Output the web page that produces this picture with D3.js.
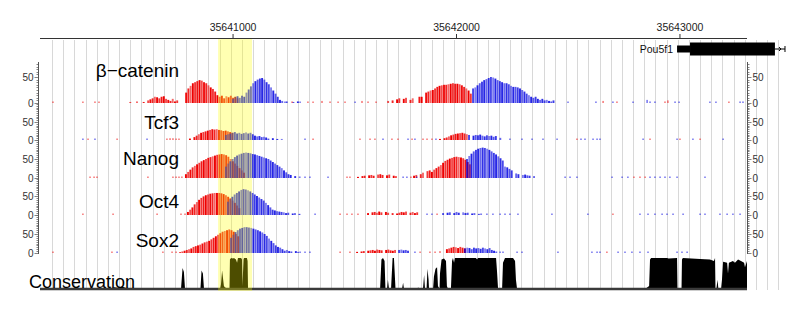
<!DOCTYPE html>
<html><head><meta charset="utf-8">
<script src="https://cdn.jsdelivr.net/npm/d3@7/dist/d3.min.js"></script>
<style>body{margin:0;background:#fff}svg{display:block;font-family:"Liberation Sans",Arial,sans-serif}</style>
</head><body><svg id="c" width="800" height="323"></svg>
<script>
// ---------------- DATA ----------------
const regionStart = 35640136, regionEnd = 35643300;
const axisTicks = [35641000, 35642000, 35643000];
const gridStart = 35640190, gridStep = 50, gridEnd = 35643450;
const highlight = [35640933, 35641085];
const trackNames = ["β−catenin", "Tcf3", "Nanog", "Oct4", "Sox2"];
const yTickValues = [0, 50];
const STEP = 10; // bp per bar
const geneName = "Pou5f1";
const gene = [35642987, 35643045, 35643425, 35643470]; // txStart, cdsStart, cdsEnd, txEnd

// segments: [startBp, values every STEP bp]
const bcatFwd = [
  [35640530, [0,2,0,0,3,0,0,2, 0,5,7,9,12,11,9,12,13,8,6,4,8,3,5,0,0,0, 20,28,33,38,40,42,44,43,40,38,34,30,27,22, 15,12,14,9,13,11,14,10,12,9]],
  [35641684, [0,4,0,5,0,7,9,0,8,10,0,6,9,0,0,12, 12,0,20,22,24,25,28,31,33,34,35,35,36,37,38,37,37,36,34,31,28,24,18]]
];
const bcatRev = [
  [35641000, [8,11,13,10,14,12,20,26,32,38,42,45,47,48,45,40,36,30,24,18,12,6,4,0,3,0,0,2,0,3,0]],
  [35642074, [28,30,34,38,41,44,46,48,50,49,47,44,42,40,38,38,36,33,31,31,30,28,25,22,18,15,12,10,12,8,6,8,5,6,4,3,5]]
];
const bcatNoise = [[35640194,3,"f"],[35640328,2,"f"],[35640382,3,"f"],[35640400,2,"f"],[35641232,2,"r"],[35641264,3,"f"],[35641300,2,"r"],[35641335,3,"f"],[35641358,2,"f"],[35641398,4,"f"],[35641434,3,"f"],[35641470,2,"f"],[35641501,3,"f"],[35641546,2,"r"],[35641577,4,"f"],[35641604,3,"f"],[35641640,3,"f"],[35642499,2,"r"],[35642624,3,"r"],[35642656,4,"f"],[35642700,3,"r"],[35642718,3,"f"],[35642790,2,"r"],[35642853,6,"r"],[35642866,3,"r"],[35642888,3,"r"],[35642933,3,"f"],[35642946,5,"f"],[35642978,3,"r"],[35642996,2,"r"],[35643134,2,"r"],[35643161,2,"r"],[35643219,2,"f"],[35643269,3,"r"],[35643282,3,"r"]];

const tcfFwd = [
  [35640807, [4,0,8,12,16,20,22,24,26,28,30,29,30,28,27,25,26,24,22,20]],
  [35641926, [3,0,5,7,10,13,15,17,18,19,20,18,16]]
];
const tcfRev = [
  [35640968, [14,16,18,20,22,18,20,17,19,21,18,20,16,12,10,11,8,9,7,4,0,5,0,3,0,3]],
  [35642056, [14,0,12,14,13,15,12,10,13,11,12,9,11,0,6]]
];
const tcfNoise = [[35640328,2,"r"],[35640351,3,"f"],[35640382,2,"r"],[35640481,2,"f"],[35640615,3,"r"],[35640704,4,"f"],[35640718,5,"f"],[35640731,5,"f"],[35640745,4,"f"],[35640758,3,"f"],[35641322,2,"r"],[35641358,3,"f"],[35641568,2,"f"],[35641613,3,"f"],[35641635,2,"f"],[35641671,2,"r"],[35641711,2,"f"],[35641738,3,"f"],[35641783,2,"r"],[35641801,2,"f"],[35641814,2,"r"],[35641850,4,"f"],[35641868,4,"f"],[35641890,3,"f"],[35641908,3,"r"],[35642239,3,"r"],[35642293,2,"r"],[35642338,2,"r"],[35642387,2,"r"],[35642450,2,"r"],[35642539,2,"f"],[35642557,2,"r"],[35642575,2,"r"],[35642611,3,"r"],[35642629,3,"r"],[35642642,2,"r"],[35642835,2,"r"],[35642866,2,"f"],[35642987,2,"r"],[35643000,2,"f"],[35643058,2,"r"],[35643090,2,"f"],[35643193,2,"r"]];

const nanogFwd = [
  [35640789, [10,16,22,28,32,36,40,44,47,50,53,55,57,59,61,62,63,62,60,56,50,44,38,32,26,20,14]],
  [35641810, [6,8,0,10,14,0,18,20,16,22,26,30,34,40,45,48,51,53,55,56,55,54,52,48,42,36]],
  [35641559, [3,0,5,6,0,7,8,6,0,9,10,8,0,7,9,0,6,5,0]]
];
const nanogRev = [
  [35640968, [30,38,44,50,55,59,62,64,66,67,66,65,63,62,60,58,56,54,52,50,46,42,38,34,30,26,20,15,10,8,0,5,0,4]],
  [35642047, [50,58,64,70,74,77,79,80,79,77,74,70,66,62,57,52,46,30,28,24,20,0,12,10,0,8,9,7,6,0,5]]
];
const nanogNoise = [[35640360,3,"f"],[35640378,2,"f"],[35640391,3,"f"],[35640619,2,"f"],[35640731,3,"f"],[35640745,4,"f"],[35640758,3,"f"],[35640771,4,"f"],[35641322,2,"r"],[35641344,2,"r"],[35641425,2,"r"],[35641510,2,"f"],[35641523,2,"f"],[35641761,4,"r"],[35641778,3,"r"],[35641796,4,"f"],[35641822,3,"r"],[35642486,2,"r"],[35642508,2,"r"],[35642539,2,"r"],[35642696,2,"r"],[35642741,2,"r"],[35642767,2,"r"],[35642794,3,"f"],[35642821,4,"f"],[35642844,4,"f"],[35642866,3,"r"],[35642888,4,"r"],[35642911,3,"r"],[35642933,4,"r"],[35642955,3,"r"],[35642987,2,"r"],[35643112,2,"r"]];

const oct4Fwd = [
  [35640798, [8,14,20,28,34,40,45,49,52,54,56,57,58,58,58,57,55,52,48,44,38,32,25,18]],
  [35641604, [5,0,7,8,6,9,7,0,8,6,0,5,0,4,6,8,7,9,0,6,8,5,7,0]]
];
const oct4Rev = [
  [35640977, [35,42,48,54,58,62,66,68,67,65,62,58,54,50,46,42,38,32,26,20,14,12,10,9,8,7,5,6,0,4,5,0,3]],
  [35641940, [5,0,6,7,0,5,8,6,0,7,5,6,0,4,5,0,3,4]]
];
const oct4Noise = [[35640328,2,"f"],[35640463,2,"f"],[35640660,2,"f"],[35640767,3,"f"],[35640785,4,"f"],[35641367,2,"r"],[35641479,2,"f"],[35641510,2,"f"],[35641532,2,"f"],[35641559,3,"f"],[35641868,2,"r"],[35641890,2,"r"],[35641913,3,"f"],[35642136,3,"r"],[35642163,2,"r"],[35642195,3,"r"],[35642217,2,"r"],[35642239,2,"r"],[35642275,2,"r"],[35642427,2,"r"],[35642588,2,"r"],[35642700,2,"f"],[35642821,2,"r"],[35642857,2,"r"],[35642888,2,"r"],[35642920,3,"r"],[35642942,2,"r"],[35642969,2,"r"],[35643014,2,"r"],[35643090,2,"r"],[35643112,2,"r"],[35643179,2,"r"],[35643211,2,"r"],[35643237,2,"r"],[35643269,2,"r"]];

const sox2Fwd = [
  [35640763, [2,4,6,8,10,12,16,18,20,22,25,28,30,32,36,40,44,48,52,56,58,60,62,60,56,50,44]],
  [35641957, [10,12,14,16,15,13,16,14,12]],
  [35641555, [3,0,4,5,0,6,7,8,6,9,8,7,0,8,9,7,6,8,0]]
];
const sox2Rev = [
  [35640991, [40,48,55,60,64,66,68,68,67,66,64,62,60,57,54,50,45,38,32,26,20,16,14,10,6,8,5,4,0,5,3]],
  [35642038, [12,14,13,10,14,12,13,11,14,12,10,13,8,6,4]],
  [35641743, [8,9,7,8,6]]
];
const sox2Noise = [[35640194,2,"f"],[35640458,2,"f"],[35640481,2,"r"],[35640686,3,"f"],[35640727,3,"f"],[35640745,4,"f"],[35641300,2,"r"],[35641322,3,"r"],[35641344,2,"r"],[35641479,2,"f"],[35641523,2,"f"],[35641814,2,"r"],[35641837,2,"f"],[35641881,4,"f"],[35641904,3,"f"],[35641926,5,"f"],[35642195,3,"r"],[35642208,2,"r"],[35642271,2,"r"],[35642293,2,"r"],[35642454,2,"r"],[35642606,2,"r"],[35642629,2,"r"],[35642642,2,"r"],[35642673,3,"f"],[35642723,2,"r"],[35642754,2,"r"],[35642785,2,"r"],[35642821,2,"r"],[35642857,2,"r"],[35642987,2,"r"],[35643009,2,"r"],[35643032,2,"r"]];

// conservation profile (bp, score 0..1)
const consPos = [35640136,35640458,35640467,35640485,35640503,35640521,35640530,
 35640767,35640774,35640780,35640785, 35640854,35640859,35640865,35640870,
 35640942,35640946,35640951,35640955,35640959,35640964,35640982,
 35640984,35640986,35640991,35641000,35641004,35641013,35641018,35641022,35641036,35641040,35641042,35641047,35641049,35641062,35641065,35641067,
 35641658,35641664,35641671,35641678,35641682,35641689,35641693,35641698,35641707,35641714,35641720,35641727,
 35641756,35641761,35641765,
 35641823,35641828,35641837,35641850,35641855,35641859,35641866,35641870,35641875,35641877,
 35641895,35641899,35641906,35641913,35641917,35641924,35641926,35641933,35641944,35641953,35641957,35641962,
 35641975,35641980,35641984,35641989,35641993,35642087,35642092,35642096,35642177,35642181,35642186,
 35642204,35642208,35642217,35642253,35642262,35642266,35642271,
 35642844,35642853,35642862,35642866,35642871,35642942,35642949,35642987,35642989,
 35643007,35643009,35643013,35643090,35643134,35643152,35643157,35643159,
 35643163,35643168,35643172,35643184,35643188,35643193,35643211,35643215,35643219,35643237,35643246,35643260,35643273,35643287,35643291,35643300];
const consVal = [0,0,0.06,0.04,0.08,0.03,0,
 0,0.68,0.55,0, 0,0.6,0.5,0,
 0,0.15,0.6,0.35,0.1,0.05,0,
 0,0.95,1,0.98,1,0.95,0.85,1,1,0.95,0.1,0.95,1,1,0.9,0,
 0,0.95,1,0.9,0,0,0.3,0,0,1,1,0,
 0,0.2,0,
 0,0.05,0,0,0.45,0,0,0.65,0.3,0,
 0,0.4,0.65,0.7,0.1,0,0.5,0.95,0.98,0.9,0.1,0,
 0,0.9,1,0.85,1,1,0.95,1,1,0.6,0,
 0,0.85,1,1,0.9,0.3,0,
 0,0.05,0.1,0.95,1,1,0.98,1,0,
 0,0.95,1,0.97,0.95,0.9,1,0,
 0,0.3,0,0,0.3,0.88,0.85,0.5,0.85,0.9,0.85,0.95,0.9,0.85,0.7,0.9];

// ---------------- LAYOUT ----------------
const L = 40, R = 747;
const zeroY = [103, 140, 178, 215, 253];
const fiftyY = [77, 122, 159, 196, 234];
const topY = [62, 103, 140, 178, 215];
const labelY = [77, 129, 165, 208, 247];
const consBase = 289, consTop = 258;
const RED = "#ee0000", BLUE = "#0000e0";
const shade = [1, 0.7, 0.95, 0.85, 0.6, 1, 0.78, 0.9];

const svg = d3.select("#c");
const xs = d3.scaleLinear().domain([regionStart, regionEnd]).range([L, R]);

// grid
const gridPos = d3.range(gridStart, gridEnd, gridStep);
svg.append("g").selectAll("line").data(gridPos).join("line")
  .attr("x1", d => Math.round(xs(d)) + 0.5).attr("x2", d => Math.round(xs(d)) + 0.5)
  .attr("y1", 40).attr("y2", 290).attr("stroke", "#d8d8d8").attr("stroke-width", 1);

// top axis
const topAxis = svg.append("g");
topAxis.append("line").attr("x1", L).attr("x2", R).attr("y1", 38.5).attr("y2", 38.5).attr("stroke", "#333");
topAxis.selectAll("line.t").data(axisTicks).join("line").attr("class", "t")
  .attr("x1", d => xs(d)).attr("x2", d => xs(d)).attr("y1", 34).attr("y2", 38.5).attr("stroke", "#333");
topAxis.selectAll("text").data(axisTicks).join("text")
  .attr("x", d => xs(d)).attr("y", 31).attr("text-anchor", "middle")
  .attr("font-size", 10.5).attr("fill", "#222").text(d => d);

// gene
const gg = svg.append("g");
gg.append("text").attr("x", xs(gene[0]) - 4).attr("y", 53).attr("text-anchor", "end")
  .attr("font-size", 10.5).attr("fill", "#111").text(geneName);
gg.append("rect").attr("x", xs(gene[0])).attr("width", xs(gene[1]) - xs(gene[0]))
  .attr("y", 45.5).attr("height", 7).attr("fill", "#000");
gg.append("rect").attr("x", xs(gene[1])).attr("width", xs(gene[2]) - xs(gene[1]))
  .attr("y", 42.5).attr("height", 13).attr("fill", "#000");
gg.append("line").attr("x1", xs(gene[2])).attr("x2", xs(gene[3])).attr("y1", 49).attr("y2", 49).attr("stroke", "#000");
gg.append("line").attr("x1", xs(gene[3])).attr("x2", xs(gene[3])).attr("y1", 46).attr("y2", 52).attr("stroke", "#000");
gg.append("path").attr("d", `M${xs(gene[2]) + 4},47 l2,2 l-2,2`).attr("fill", "none").attr("stroke", "#000");

// tracks
const tracks = [
  [bcatFwd, bcatRev, bcatNoise],
  [tcfFwd, tcfRev, tcfNoise],
  [nanogFwd, nanogRev, nanogNoise],
  [oct4Fwd, oct4Rev, oct4Noise],
  [sox2Fwd, sox2Rev, sox2Noise]
];

tracks.forEach(([fwd, rev, noise], k) => {
  const ys = d3.scaleLinear().domain([0, 50]).range([zeroY[k], fiftyY[k]]);
  const g = svg.append("g");
  const flat = (segs) => segs.flatMap(([s, vals]) => vals.map((v, i) => ({bp: s + i * STEP, v, i}))).filter(d => d.v > 0);
  g.append("g").selectAll("rect").data(flat(fwd)).join("rect")
    .attr("x", d => xs(d.bp) - 0.95).attr("width", 1.9)
    .attr("y", d => ys(d.v)).attr("height", d => ys(0) - ys(d.v))
    .attr("fill", RED).attr("opacity", d => shade[d.i % shade.length]);
  g.append("g").selectAll("rect").data(flat(rev)).join("rect")
    .attr("x", d => xs(d.bp) - 0.95).attr("width", 1.9)
    .attr("y", d => ys(d.v)).attr("height", d => ys(0) - ys(d.v))
    .attr("fill", BLUE).attr("opacity", d => 0.85 * shade[(d.i + 3) % shade.length]);
  g.append("g").selectAll("rect").data(noise).join("rect")
    .attr("x", d => xs(d[0]) - 0.75).attr("width", 1.5)
    .attr("y", d => Math.min(ys(d[1]), ys(0) - 1.5)).attr("height", d => Math.max(ys(0) - ys(d[1]), 1.5))
    .attr("fill", d => d[2] === "f" ? RED : BLUE).attr("opacity", 0.55);

  // axes
  [[L - 1.5, -1], [R + 0.5, 1]].forEach(([ax, dir]) => {
    const a = svg.append("g");
    const minor = d3.range(0, 200, 5).filter(v => ys(v) >= topY[k] - 0.1);
    a.selectAll("line").data(minor).join("line")
      .attr("x1", ax).attr("x2", d => ax + dir * (yTickValues.includes(d) ? 4 : 2))
      .attr("y1", d => Math.round(ys(d)) + 0.5).attr("y2", d => Math.round(ys(d)) + 0.5)
      .attr("stroke", "#666").attr("stroke-width", 0.8);
    a.selectAll("text").data(yTickValues).join("text")
      .attr("x", ax + dir * 5).attr("y", d => ys(d)).attr("dy", "0.35em")
      .attr("text-anchor", dir < 0 ? "end" : "start")
      .attr("font-size", 10).attr("fill", "#333").text(d => d);
  });

  svg.append("text").attr("x", 179).attr("y", labelY[k]).attr("text-anchor", "end")
    .attr("font-size", 19).attr("fill", "#000").text(trackNames[k]);
});

// axis vertical lines
[L - 1.5, R + 0.5].forEach(ax => svg.append("line").attr("x1", ax).attr("x2", ax)
  .attr("y1", topY[0]).attr("y2", zeroY[4] + 1).attr("stroke", "#555").attr("stroke-width", 1));

// conservation
const cy = d3.scaleLinear().domain([0, 1]).range([consBase, consTop]);
const consData = consPos.map((p, i) => [p, consVal[i]]);
svg.append("path").datum(consData)
  .attr("d", d3.area().x(d => xs(d[0])).y0(consBase).y1(d => cy(d[1])))
  .attr("fill", "#000");
svg.append("line").attr("x1", L).attr("x2", R).attr("y1", consBase).attr("y2", consBase)
  .attr("stroke", "#3a3a3a").attr("stroke-width", 2.5);
svg.append("text").attr("x", 29).attr("y", 288).attr("font-size", 18).attr("fill", "#000").text("Conservation");

// highlight overlay
svg.append("rect").attr("x", xs(highlight[0])).attr("width", xs(highlight[1]) - xs(highlight[0]))
  .attr("y", 39).attr("height", 252).attr("fill", "#ffff00").attr("opacity", 0.3);
</script></body></html>
